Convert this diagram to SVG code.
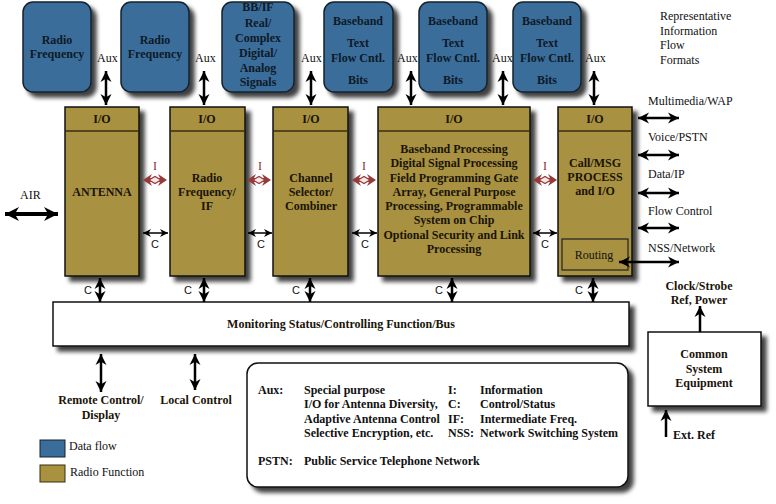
<svg xmlns="http://www.w3.org/2000/svg" width="776" height="504" viewBox="0 0 776 504" font-family="'Liberation Serif', 'Times New Roman', serif">
<defs>
<filter id="sh" x="-20%" y="-20%" width="150%" height="150%">
<feDropShadow dx="5" dy="5" stdDeviation="2.2" flood-color="#000" flood-opacity="0.75"/>
</filter>
<marker id="ak" markerUnits="userSpaceOnUse" markerWidth="11" markerHeight="12" viewBox="0 0 10 10" refX="10" refY="5" orient="auto-start-reverse">
<path d="M0,0 L10,5 L0,10 L3,5 z" fill="#000"/>
</marker>
<marker id="ab" markerUnits="userSpaceOnUse" markerWidth="16" markerHeight="14" viewBox="0 0 10 10" refX="10" refY="5" orient="auto-start-reverse">
<path d="M0,0 L10,5 L0,10 L3,5 z" fill="#000"/>
</marker>
<marker id="as" markerUnits="userSpaceOnUse" markerWidth="8" markerHeight="8" viewBox="0 0 10 10" refX="10" refY="5" orient="auto-start-reverse">
<path d="M0,0 L10,5 L0,10 L3,5 z" fill="#000"/>
</marker>
<path id="iarrow" d="M0,0 L9,-6 L7,-2 L17,-2 L15,-6 L24,0 L15,6 L17,2 L7,2 L9,6 Z" fill="#963a3a"/>
</defs>
<style>
.blue{fill:#3b6d9a;stroke:#15222e;stroke-width:1.5}
.olive{fill:#a8913f;stroke:#111;stroke-width:1.5}
.plain{fill:#fff;stroke:#111;stroke-width:1.5}
.t{font-family:'Liberation Serif','Times New Roman',serif;font-size:12px;fill:#111}
.b{font-weight:bold}
.bt{font-family:'Liberation Serif','Times New Roman',serif;font-size:12px;font-weight:bold;fill:#0d1a28;text-anchor:middle}
.ot{font-family:'Liberation Serif','Times New Roman',serif;font-size:12px;font-weight:bold;fill:#1a1408;text-anchor:middle}
.m{text-anchor:middle}
.thick{stroke:#000;stroke-width:2.5;fill:none;marker-start:url(#ak);marker-end:url(#ak)}
.air{stroke:#000;stroke-width:4;fill:none;marker-start:url(#ab);marker-end:url(#ab)}
.thin{stroke:#000;stroke-width:1.5;fill:none;marker-start:url(#as);marker-end:url(#as)}
.up{stroke:#000;stroke-width:2.5;fill:none;marker-end:url(#ak)}
.dia{fill:#f6e6e6;stroke:#963a3a;stroke-width:1.2}
.it{font-family:'Liberation Serif','Times New Roman',serif;font-size:12px;fill:#8a2e2e;text-anchor:middle}
</style>

<g id="df1"><rect class="blue" x="23" y="2" width="68" height="90" rx="10" filter="url(#sh)"/>
<text class="bt" x="57" y="44">Radio</text><text class="bt" x="57" y="58">Frequency</text></g>
<g id="df2"><rect class="blue" x="121" y="2" width="68" height="90" rx="10" filter="url(#sh)"/>
<text class="bt" x="155" y="44">Radio</text><text class="bt" x="155" y="58">Frequency</text></g>
<g id="df3"><rect class="blue" x="222" y="2" width="72" height="90" rx="10" filter="url(#sh)"/>
<text class="bt" x="258" y="11">BB/IF</text><text class="bt" x="258" y="27">Real/</text><text class="bt" x="258" y="42">Complex</text><text class="bt" x="258" y="57">Digital/</text><text class="bt" x="258" y="72">Analog</text><text class="bt" x="258" y="86">Signals</text></g>
<g id="df4"><rect class="blue" x="324" y="2" width="69" height="90" rx="10" filter="url(#sh)"/>
<text class="bt" x="358" y="25">Baseband</text><text class="bt" x="358" y="47">Text</text><text class="bt" x="358" y="62">Flow Cntl.</text><text class="bt" x="358" y="84">Bits</text></g>
<g id="df5"><rect class="blue" x="419" y="2" width="68" height="90" rx="10" filter="url(#sh)"/>
<text class="bt" x="453" y="25">Baseband</text><text class="bt" x="453" y="47">Text</text><text class="bt" x="453" y="62">Flow Cntl.</text><text class="bt" x="453" y="84">Bits</text></g>
<g id="df6"><rect class="blue" x="513" y="2" width="68" height="90" rx="10" filter="url(#sh)"/>
<text class="bt" x="547" y="25">Baseband</text><text class="bt" x="547" y="47">Text</text><text class="bt" x="547" y="62">Flow Cntl.</text><text class="bt" x="547" y="84">Bits</text></g>

<g id="header"><text class="t" x="660" y="20">Representative</text><text class="t" x="660" y="35">Information</text><text class="t" x="660" y="49">Flow</text><text class="t" x="660" y="64">Formats</text></g>

<g id="antenna"><rect class="olive" x="65" y="107" width="74" height="169" filter="url(#sh)"/>
<line x1="65" y1="131" x2="139" y2="131" stroke="#3a2e10" stroke-width="1.5"/>
<text class="ot" x="102" y="123">I/O</text><text class="ot" x="102" y="196">ANTENNA</text></g>
<g id="rfif"><rect class="olive" x="170" y="107" width="75" height="169" filter="url(#sh)"/>
<line x1="170" y1="131" x2="245" y2="131" stroke="#3a2e10" stroke-width="1.5"/>
<text class="ot" x="207" y="123">I/O</text><text class="ot" x="207" y="182">Radio</text><text class="ot" x="207" y="196">Frequency/</text><text class="ot" x="207" y="210">IF</text></g>
<g id="chsel"><rect class="olive" x="273" y="107" width="75" height="169" filter="url(#sh)"/>
<line x1="273" y1="131" x2="348" y2="131" stroke="#3a2e10" stroke-width="1.5"/>
<text class="ot" x="311" y="123">I/O</text><text class="ot" x="311" y="182">Channel</text><text class="ot" x="311" y="196">Selector/</text><text class="ot" x="311" y="210">Combiner</text></g>
<g id="baseband"><rect class="olive" x="378" y="107" width="152" height="169" filter="url(#sh)"/>
<line x1="378" y1="131" x2="530" y2="131" stroke="#3a2e10" stroke-width="1.5"/>
<text class="ot" x="454" y="123">I/O</text>
<text class="ot" x="454" y="153">Baseband Processing</text><text class="ot" x="454" y="167">Digital Signal Processing</text><text class="ot" x="454" y="182">Field Programming Gate</text><text class="ot" x="454" y="196">Array, General Purpose</text><text class="ot" x="454" y="210">Processing, Programmable</text><text class="ot" x="454" y="224">System on Chip</text><text class="ot" x="454" y="239">Optional Security and Link</text><text class="ot" x="454" y="253">Processing</text></g>
<g id="callmsg"><rect class="olive" x="558" y="107" width="74" height="169" filter="url(#sh)"/>
<line x1="558" y1="131" x2="632" y2="131" stroke="#3a2e10" stroke-width="1.5"/>
<text class="ot" x="595" y="123">I/O</text><text class="ot" x="595" y="167">Call/MSG</text><text class="ot" x="595" y="181">PROCESS</text><text class="ot" x="595" y="195">and I/O</text>
<rect x="562" y="239" width="66" height="31" fill="none" stroke="#222" stroke-width="1.2"/>
<text class="t m" x="594" y="259">Routing</text></g>

<g id="monitor"><rect class="plain" x="53" y="302" width="576" height="44" filter="url(#sh)"/>
<text class="ot" x="341" y="328">Monitoring Status/Controlling Function/Bus</text></g>

<g id="common"><rect class="plain" x="648" y="332" width="113" height="74" filter="url(#sh)"/>
<text class="ot" x="704" y="358">Common</text><text class="ot" x="704" y="373">System</text><text class="ot" x="704" y="387">Equipment</text></g>

<g id="legendbox"><rect class="plain" x="247" y="363" width="381" height="124" rx="11" filter="url(#sh)"/>
<g class="t b">
<text x="258" y="394">Aux:</text><text x="304" y="394">Special purpose</text>
<text x="304" y="408">I/O for Antenna Diversity,</text>
<text x="304" y="423">Adaptive Antenna Control</text>
<text x="304" y="437">Selective Encryption, etc.</text>
<text x="448" y="394">I:</text><text x="480" y="394">Information</text>
<text x="448" y="408">C:</text><text x="480" y="408">Control/Status</text>
<text x="448" y="423">IF:</text><text x="480" y="423">Intermediate Freq.</text>
<text x="448" y="437">NSS:</text><text x="480" y="437">Network Switching System</text>
<text x="258" y="465">PSTN:</text><text x="304" y="465">Public Service Telephone Network</text>
</g></g>

<g id="legend">
<rect x="40" y="440" width="25" height="17" fill="#3b6d9a" stroke="#15222e" stroke-width="1"/>
<text class="t" x="69" y="450">Data flow</text>
<rect x="40" y="465" width="25" height="17" fill="#a8913f" stroke="#3a2e10" stroke-width="1"/>
<text class="t" x="70" y="476">Radio Function</text>
</g>

<g id="connectors">
<line class="thick" x1="106" y1="71" x2="106" y2="105"/>
<line class="thick" x1="204" y1="71" x2="204" y2="105"/>
<line class="thick" x1="311" y1="71" x2="311" y2="105"/>
<line class="thick" x1="411" y1="71" x2="411" y2="105"/>
<line class="thick" x1="503" y1="71" x2="503" y2="105"/>
<line class="thick" x1="594" y1="71" x2="594" y2="105"/>
<line class="air" x1="5" y1="214" x2="58" y2="214"/>
<use href="#iarrow" x="143" y="180"/><path class="dia" d="M149,180 L155,176.5 L161,180 L155,183.5 Z"/>
<use href="#iarrow" x="247" y="180"/><path class="dia" d="M253,180 L259,176.5 L265,180 L259,183.5 Z"/>
<use href="#iarrow" x="352" y="180"/><path class="dia" d="M358,180 L364,176.5 L370,180 L364,183.5 Z"/>
<use href="#iarrow" x="533" y="180"/><path class="dia" d="M539,180 L545,176.5 L551,180 L545,183.5 Z"/>
<line class="thin" x1="143" y1="233" x2="168" y2="233"/>
<line class="thin" x1="248" y1="233" x2="272" y2="233"/>
<line class="thin" x1="352" y1="233" x2="377" y2="233"/>
<line class="thin" x1="533" y1="233" x2="557" y2="233"/>
<line class="thick" x1="100" y1="278" x2="100" y2="302"/>
<line class="thick" x1="204" y1="278" x2="204" y2="302"/>
<line class="thick" x1="310" y1="278" x2="310" y2="302"/>
<line class="thick" x1="452" y1="278" x2="452" y2="302"/>
<line class="thick" x1="593" y1="278" x2="593" y2="302"/>
<line class="thick" x1="101" y1="354" x2="101" y2="392"/>
<line class="thick" x1="195" y1="354" x2="195" y2="390"/>
<line class="thick" x1="638" y1="118" x2="679" y2="118"/>
<line class="thick" x1="638" y1="155" x2="679" y2="155"/>
<line class="thick" x1="638" y1="193" x2="679" y2="193"/>
<line class="thick" x1="638" y1="228" x2="679" y2="228"/>
<line class="thick" x1="619" y1="262" x2="679" y2="262"/>
<line class="up" x1="700" y1="332" x2="700" y2="306"/>
<line class="up" x1="666" y1="437" x2="666" y2="410"/>
</g>

<g id="labels">
<g class="t">
<text x="97" y="62">Aux</text><text x="195" y="62">Aux</text><text x="301" y="62">Aux</text>
<text x="397" y="62">Aux</text><text x="492" y="62">Aux</text><text x="585" y="62">Aux</text>
<text x="20" y="199">AIR</text>
<text x="648" y="105">Multimedia/WAP</text>
<text x="648" y="141">Voice/PSTN</text>
<text x="648" y="178">Data/IP</text>
<text x="648" y="215">Flow Control</text>
<text x="648" y="252">NSS/Network</text>
</g>
<g class="it"><text x="155" y="170">I</text><text x="260" y="170">I</text><text x="364" y="170">I</text><text x="545" y="170">I</text></g>
<g font-family="'Liberation Sans', Arial, sans-serif" font-size="11" fill="#111" text-anchor="middle">
<text x="155" y="248">C</text><text x="261" y="248">C</text><text x="365" y="248">C</text><text x="545" y="248">C</text>
<text x="88" y="294">C</text><text x="188" y="294">C</text><text x="296" y="294">C</text><text x="439" y="294">C</text><text x="579" y="294">C</text>
</g>
<g class="ot">
<text x="101" y="404">Remote Control/</text><text x="101" y="419">Display</text>
<text x="196" y="404">Local Control</text>
<text x="699" y="290">Clock/Strobe</text><text x="699" y="304">Ref, Power</text>
</g>
<text class="t b" x="673" y="439">Ext. Ref</text>
</g>
</svg>
